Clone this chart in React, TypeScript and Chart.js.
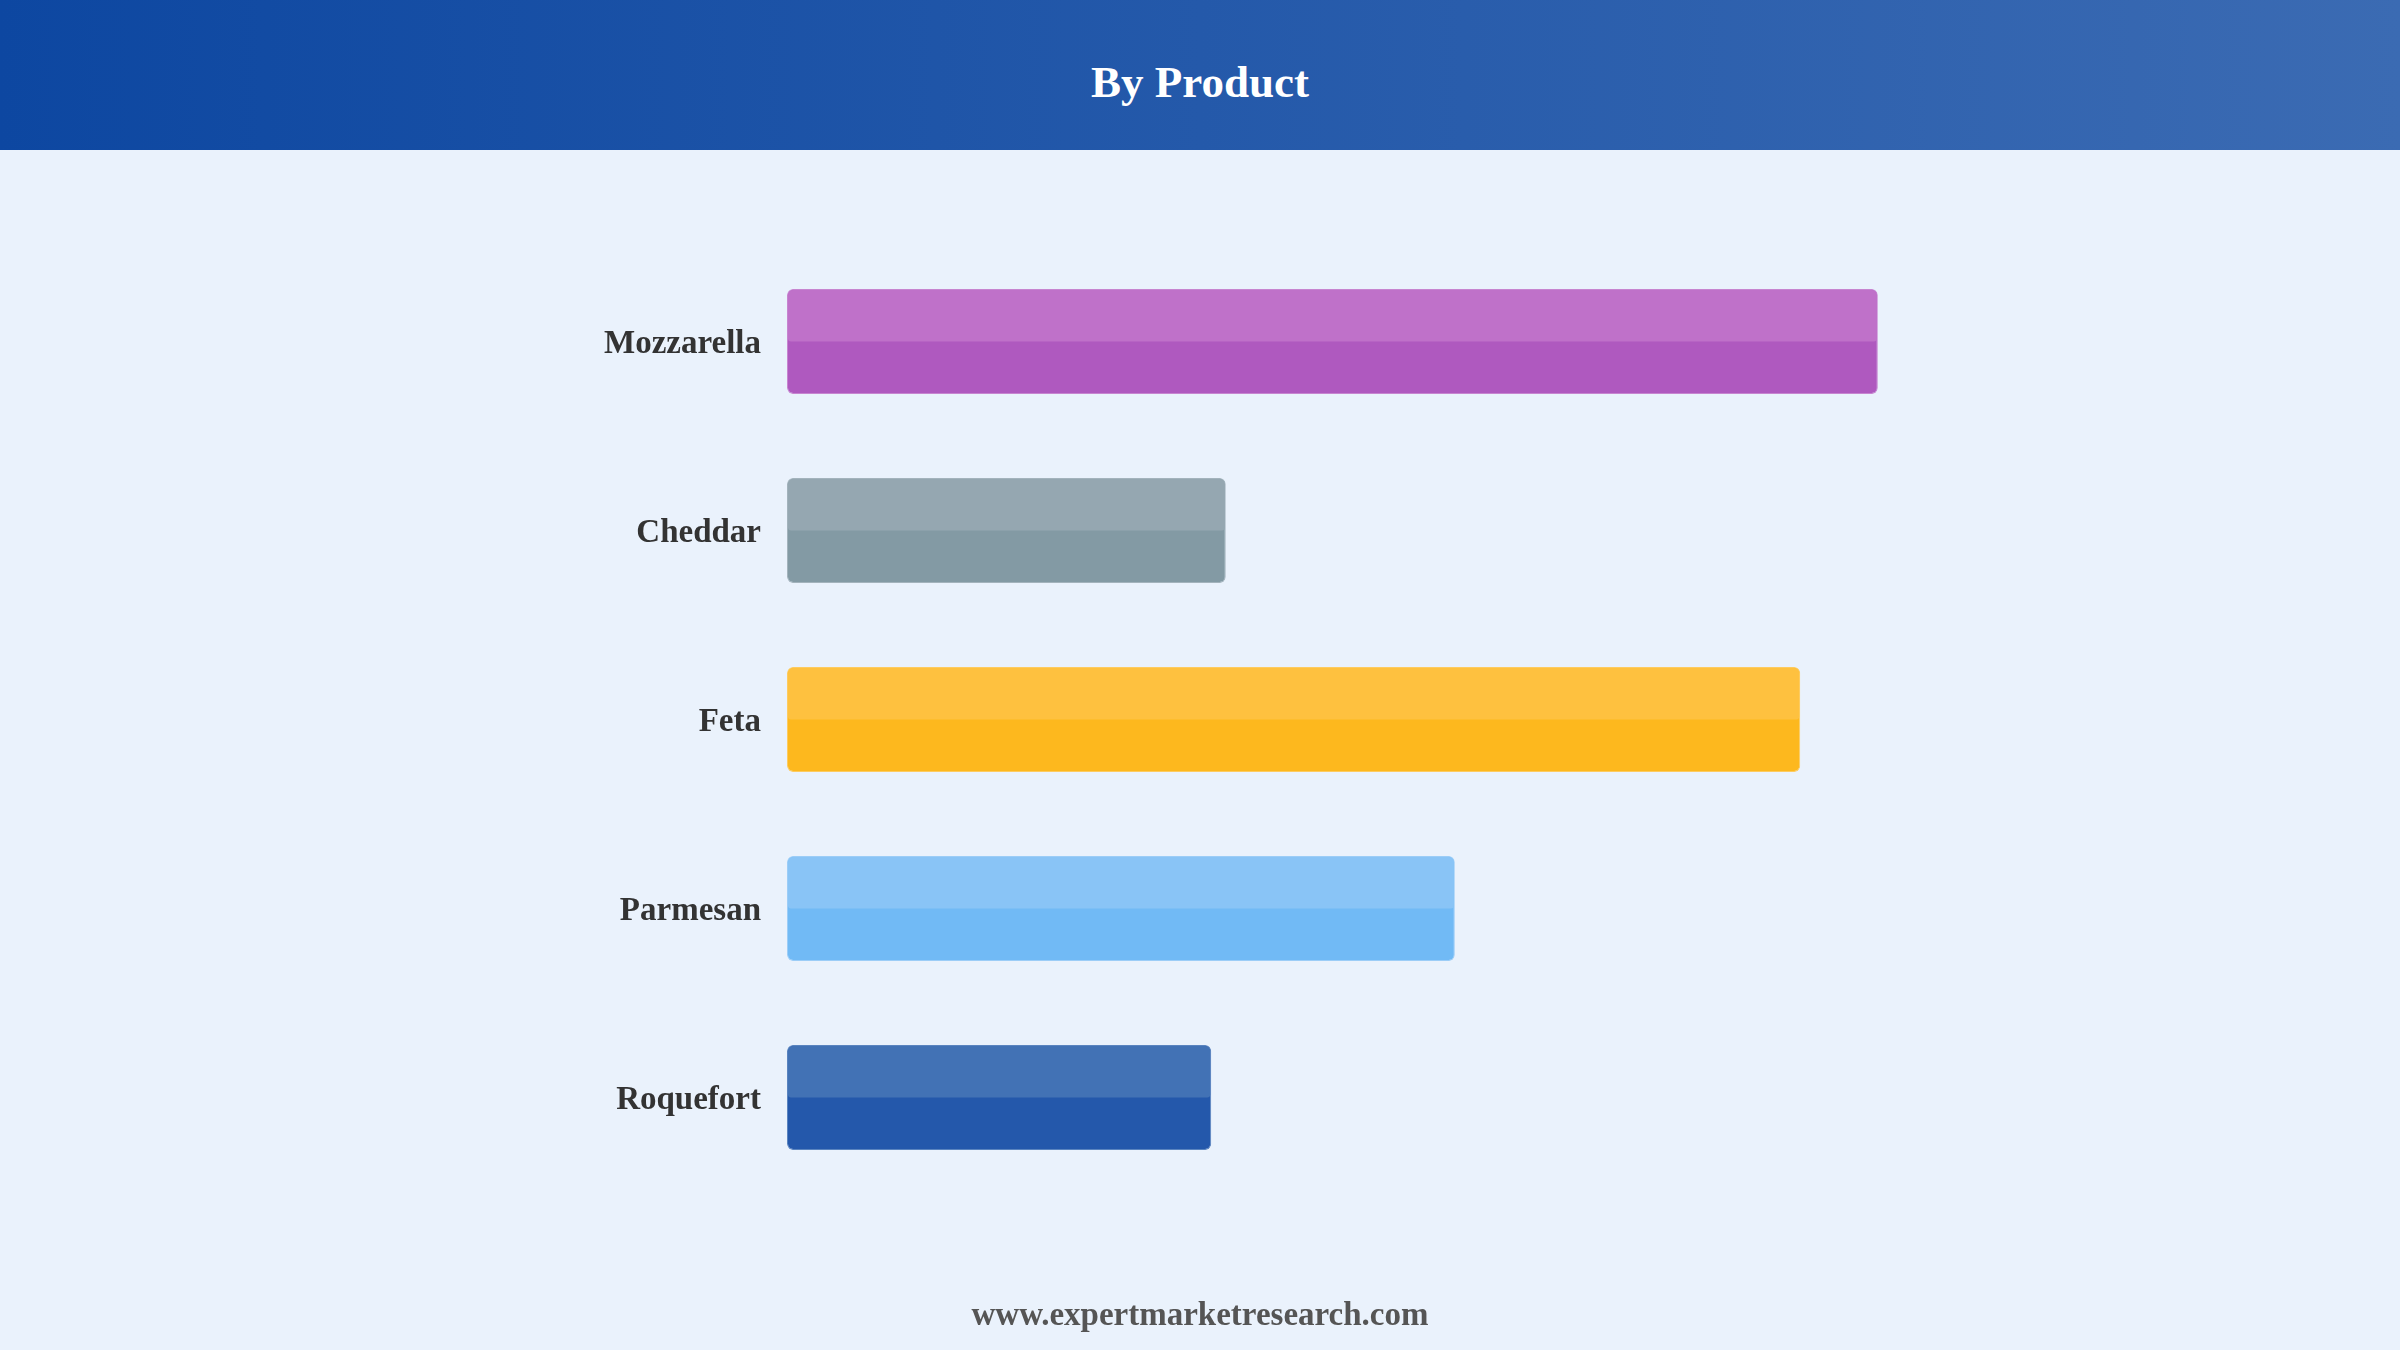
import React, { useEffect, useRef } from "react";
import { Chart, registerables } from "chart.js";

Chart.register(...registerables);

const categories = ["Mozzarella", "Cheddar", "Feta", "Parmesan", "Roquefort"];
const values = [90.0, 36.2, 83.6, 55.1, 35.0];
const baseColors = ["#AF59BF", "#839AA4", "#FDB81E", "#71BAF5", "#2458AB"];
const topColors = ["#BF71C9", "#95A7B1", "#FEC13F", "#89C4F6", "#4272B5"];
const edgeColors = ["#C785D0", "#A3B3BC", "#FDCB5F", "#9CCDF7", "#5A84BF"];
const titleText = "By Product";
const footerText = "www.expertmarketresearch.com";

const FONT = "'Liberation Serif', 'Times New Roman', serif";

const topHalfPlugin = {
  id: "topHalf",
  afterDatasetsDraw(chart: any) {
    const ctx = chart.ctx;
    const meta = chart.getDatasetMeta(0);
    meta.data.forEach((el: any, i: number) => {
      const p = el.getProps(["x", "y", "base", "height"], true);
      const left = Math.min(p.base, p.x) + 1;
      const right = Math.max(p.base, p.x) - 1;
      const top = p.y - p.height / 2 + 1;
      const mid = p.y;
      ctx.save();
      ctx.fillStyle = topColors[i];
      ctx.beginPath();
      (ctx as any).roundRect(left, top, right - left, mid - top, [5, 5, 3, 3]);
      ctx.fill();
      ctx.restore();
    });
  },
};

export default function App() {
  const ref = useRef<HTMLCanvasElement | null>(null);

  useEffect(() => {
    document.body.style.margin = "0";
    const canvas = ref.current;
    if (!canvas) return;
    const chart = new Chart(canvas, {
      type: "bar",
      data: {
        labels: categories,
        datasets: [
          {
            data: values,
            backgroundColor: baseColors,
            borderColor: edgeColors,
            borderWidth: 1,
            borderRadius: 6,
            borderSkipped: false,
            categoryPercentage: 1,
            barPercentage: 0.556,
          },
        ],
      },
      options: {
        indexAxis: "y",
        responsive: false,
        animation: false,
        devicePixelRatio: 1,
        layout: { padding: { top: 247, bottom: 158, left: 0, right: 401 } },
        plugins: {
          legend: { display: false },
          title: { display: false },
          tooltip: { enabled: false },
        },
        scales: {
          x: {
            display: false,
            min: 0,
            max: 100,
          },
          y: {
            grid: { display: false, drawTicks: false },
            border: { display: false },
            ticks: {
              padding: 26,
              labelOffset: 3,
              color: "#333333",
              font: { family: FONT, size: 33, weight: "bold" },
            },
            afterFit(scale: any) {
              scale.width = 787;
            },
          },
        },
      },
      plugins: [topHalfPlugin],
    } as any);
    return () => chart.destroy();
  }, []);

  return (
    <div
      style={{
        position: "fixed",
        left: 0,
        top: 0,
        width: 2400,
        height: 1350,
        background: "#EAF2FC",
        overflow: "hidden",
      }}
    >
      <canvas
        ref={ref}
        width={2400}
        height={1350}
        style={{ position: "absolute", left: 0, top: 0, width: 2400, height: 1350 }}
      />
      <div
        style={{
          position: "absolute",
          left: 0,
          top: 0,
          width: 2400,
          height: 150,
          background: "linear-gradient(to right, #0D47A1, #3B6BB3)",
        }}
      >
        <div
          style={{
            position: "absolute",
            left: 0,
            width: 2400,
            top: 56,
            textAlign: "center",
            color: "#FFFFFF",
            fontFamily: FONT,
            fontWeight: "bold",
            fontSize: 45,
            lineHeight: "normal",
          }}
        >
          {titleText}
        </div>
      </div>
      <div
        style={{
          position: "absolute",
          left: 0,
          width: 2400,
          top: 1296,
          textAlign: "center",
          color: "#555555",
          fontFamily: FONT,
          fontWeight: "bold",
          fontSize: 33,
          lineHeight: "normal",
        }}
      >
        {footerText}
      </div>
    </div>
  );
}
